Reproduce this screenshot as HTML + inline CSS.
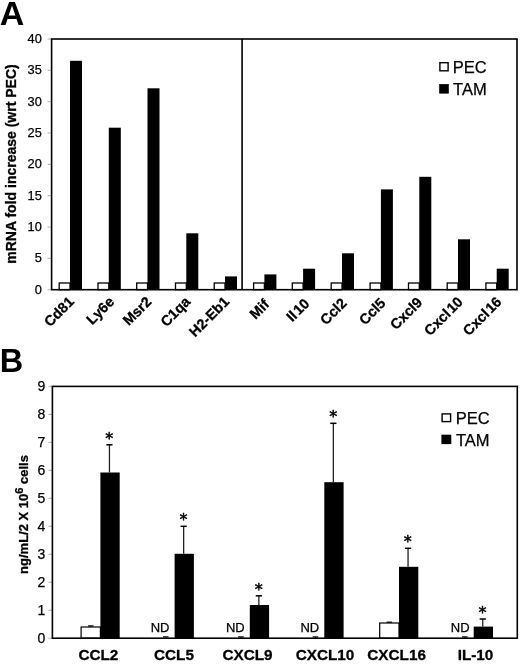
<!DOCTYPE html>
<html><head><meta charset="utf-8"><title>Figure</title>
<style>
html,body{margin:0;padding:0;background:#fff;}
body{width:520px;height:664px;overflow:hidden;}
svg{display:block;}
text{font-family:"Liberation Sans",Arial,sans-serif;fill:#000;}
.b{font-weight:bold;}
.t{stroke:#000;stroke-width:0.25px;}
.bx{stroke:#000;stroke-width:0.3px;}
.ast{font-family:"DejaVu Sans","Liberation Sans",sans-serif;stroke:#000;stroke-width:0.5px;}
</style></head><body>
<svg width="520" height="664" viewBox="0 0 520 664">
<rect x="0" y="0" width="520" height="664" fill="#fff"/>

<text class="b" x="-0.2" y="24.5" font-size="34">A</text>
<line x1="47.6" y1="289.70" x2="51.6" y2="289.70" stroke="#999" stroke-width="0.8"/>
<text class="t" x="41.8" y="293.60" font-size="12.8" text-anchor="end">0</text>
<line x1="47.6" y1="258.36" x2="51.6" y2="258.36" stroke="#999" stroke-width="0.8"/>
<text class="t" x="41.8" y="262.26" font-size="12.8" text-anchor="end">5</text>
<line x1="47.6" y1="227.02" x2="51.6" y2="227.02" stroke="#999" stroke-width="0.8"/>
<text class="t" x="41.8" y="230.92" font-size="12.8" text-anchor="end">10</text>
<line x1="47.6" y1="195.69" x2="51.6" y2="195.69" stroke="#999" stroke-width="0.8"/>
<text class="t" x="41.8" y="199.59" font-size="12.8" text-anchor="end">15</text>
<line x1="47.6" y1="164.35" x2="51.6" y2="164.35" stroke="#999" stroke-width="0.8"/>
<text class="t" x="41.8" y="168.25" font-size="12.8" text-anchor="end">20</text>
<line x1="47.6" y1="133.01" x2="51.6" y2="133.01" stroke="#999" stroke-width="0.8"/>
<text class="t" x="41.8" y="136.91" font-size="12.8" text-anchor="end">25</text>
<line x1="47.6" y1="101.67" x2="51.6" y2="101.67" stroke="#999" stroke-width="0.8"/>
<text class="t" x="41.8" y="105.57" font-size="12.8" text-anchor="end">30</text>
<line x1="47.6" y1="70.34" x2="51.6" y2="70.34" stroke="#999" stroke-width="0.8"/>
<text class="t" x="41.8" y="74.24" font-size="12.8" text-anchor="end">35</text>
<line x1="47.6" y1="39.00" x2="51.6" y2="39.00" stroke="#999" stroke-width="0.8"/>
<text class="t" x="41.8" y="42.90" font-size="12.8" text-anchor="end">40</text>
<rect x="59.20" y="283.00" width="10.8" height="6.70" fill="#fff" stroke="#000" stroke-width="1.3"/>
<rect x="70.00" y="60.80" width="12" height="228.90" fill="#000"/>
<rect x="98.00" y="283.00" width="10.8" height="6.70" fill="#fff" stroke="#000" stroke-width="1.3"/>
<rect x="108.80" y="127.70" width="12" height="162.00" fill="#000"/>
<rect x="136.70" y="283.00" width="10.8" height="6.70" fill="#fff" stroke="#000" stroke-width="1.3"/>
<rect x="147.50" y="88.30" width="12" height="201.40" fill="#000"/>
<rect x="175.50" y="283.00" width="10.8" height="6.70" fill="#fff" stroke="#000" stroke-width="1.3"/>
<rect x="186.30" y="233.30" width="12" height="56.40" fill="#000"/>
<rect x="214.20" y="283.00" width="10.8" height="6.70" fill="#fff" stroke="#000" stroke-width="1.3"/>
<rect x="225.00" y="276.40" width="12" height="13.30" fill="#000"/>
<rect x="253.60" y="283.00" width="10.8" height="6.70" fill="#fff" stroke="#000" stroke-width="1.3"/>
<rect x="264.40" y="274.40" width="12" height="15.30" fill="#000"/>
<rect x="292.30" y="283.00" width="10.8" height="6.70" fill="#fff" stroke="#000" stroke-width="1.3"/>
<rect x="303.10" y="268.70" width="12" height="21.00" fill="#000"/>
<rect x="331.20" y="283.00" width="10.8" height="6.70" fill="#fff" stroke="#000" stroke-width="1.3"/>
<rect x="342.00" y="253.30" width="12" height="36.40" fill="#000"/>
<rect x="370.10" y="283.00" width="10.8" height="6.70" fill="#fff" stroke="#000" stroke-width="1.3"/>
<rect x="380.90" y="189.40" width="12" height="100.30" fill="#000"/>
<rect x="408.50" y="283.00" width="10.8" height="6.70" fill="#fff" stroke="#000" stroke-width="1.3"/>
<rect x="419.30" y="176.80" width="12" height="112.90" fill="#000"/>
<rect x="447.20" y="283.00" width="10.8" height="6.70" fill="#fff" stroke="#000" stroke-width="1.3"/>
<rect x="458.00" y="239.30" width="12" height="50.40" fill="#000"/>
<rect x="485.90" y="283.00" width="10.8" height="6.70" fill="#fff" stroke="#000" stroke-width="1.3"/>
<rect x="496.70" y="268.70" width="12" height="21.00" fill="#000"/>
<text class="b bx" font-size="14.4" text-anchor="end" transform="translate(74.80,302.60) rotate(-45)">Cd81</text>
<text class="b bx" font-size="14.4" text-anchor="end" transform="translate(115.13,302.60) rotate(-45)">Ly6e</text>
<text class="b bx" font-size="14.4" text-anchor="end" transform="translate(152.46,302.60) rotate(-45)">Msr2</text>
<text class="b bx" font-size="14.4" text-anchor="end" transform="translate(191.29,302.60) rotate(-45)">C1qa</text>
<text class="b bx" font-size="14.4" text-anchor="end" transform="translate(230.12,302.60) rotate(-45)">H2-Eb1</text>
<text class="b bx" font-size="14.4" text-anchor="end" transform="translate(270.25,305.20) rotate(-45)">Mif</text>
<text class="b bx" font-size="14.4" text-anchor="end" transform="translate(310.38,304.50) rotate(-45)">Il<tspan dx="1.5">10</tspan></text>
<text class="b bx" font-size="14.4" text-anchor="end" transform="translate(347.61,304.20) rotate(-45)">Ccl2</text>
<text class="b bx" font-size="14.4" text-anchor="end" transform="translate(386.44,304.20) rotate(-45)">Ccl5</text>
<text class="b bx" font-size="14.4" text-anchor="end" transform="translate(423.27,303.40) rotate(-45)">Cxcl9</text>
<text class="b bx" font-size="14.4" text-anchor="end" transform="translate(463.70,302.80) rotate(-45)">Cxcl<tspan dx="1.2">10</tspan></text>
<text class="b bx" font-size="14.4" text-anchor="end" transform="translate(502.53,302.80) rotate(-45)">Cxcl<tspan dx="1.2">16</tspan></text>
<rect x="51.6" y="39.0" width="465.4" height="250.70" fill="none" stroke="#000" stroke-width="1.6"/>
<line x1="242.1" y1="39.0" x2="242.1" y2="289.7" stroke="#000" stroke-width="1.6"/>
<text class="b bx" font-size="14" text-anchor="middle" transform="translate(15.7,164) rotate(-90)">mRNA fold increase (wrt PEC)</text>
<rect x="439.9" y="62.7" width="8.2" height="8.1" fill="#fff" stroke="#000" stroke-width="1.4"/>
<text class="t" x="452.8" y="73.1" font-size="16.5">PEC</text>
<rect x="439.2" y="84.1" width="9.6" height="9.5" fill="#000"/>
<text class="t" x="453.1" y="95" font-size="16.5">TAM</text>
<text class="b" x="-0.3" y="372.3" font-size="32.5">B</text>
<line x1="48.4" y1="638.20" x2="52.4" y2="638.20" stroke="#999" stroke-width="0.8"/>
<text class="t" x="45.2" y="642.60" font-size="14" text-anchor="end">0</text>
<line x1="48.4" y1="610.22" x2="52.4" y2="610.22" stroke="#999" stroke-width="0.8"/>
<text class="t" x="45.2" y="614.62" font-size="14" text-anchor="end">1</text>
<line x1="48.4" y1="582.24" x2="52.4" y2="582.24" stroke="#999" stroke-width="0.8"/>
<text class="t" x="45.2" y="586.64" font-size="14" text-anchor="end">2</text>
<line x1="48.4" y1="554.27" x2="52.4" y2="554.27" stroke="#999" stroke-width="0.8"/>
<text class="t" x="45.2" y="558.67" font-size="14" text-anchor="end">3</text>
<line x1="48.4" y1="526.29" x2="52.4" y2="526.29" stroke="#999" stroke-width="0.8"/>
<text class="t" x="45.2" y="530.69" font-size="14" text-anchor="end">4</text>
<line x1="48.4" y1="498.31" x2="52.4" y2="498.31" stroke="#999" stroke-width="0.8"/>
<text class="t" x="45.2" y="502.71" font-size="14" text-anchor="end">5</text>
<line x1="48.4" y1="470.33" x2="52.4" y2="470.33" stroke="#999" stroke-width="0.8"/>
<text class="t" x="45.2" y="474.73" font-size="14" text-anchor="end">6</text>
<line x1="48.4" y1="442.36" x2="52.4" y2="442.36" stroke="#999" stroke-width="0.8"/>
<text class="t" x="45.2" y="446.76" font-size="14" text-anchor="end">7</text>
<line x1="48.4" y1="414.38" x2="52.4" y2="414.38" stroke="#999" stroke-width="0.8"/>
<text class="t" x="45.2" y="418.78" font-size="14" text-anchor="end">8</text>
<line x1="48.4" y1="386.40" x2="52.4" y2="386.40" stroke="#999" stroke-width="0.8"/>
<text class="t" x="45.2" y="390.80" font-size="14" text-anchor="end">9</text>
<rect x="81.10" y="627.00" width="19.3" height="11.20" fill="#fff" stroke="#000" stroke-width="1.2"/>
<line x1="90.75" y1="627.00" x2="90.75" y2="625.90" stroke="#000" stroke-width="1"/>
<line x1="87.95" y1="625.90" x2="93.55" y2="625.90" stroke="#000" stroke-width="1.2"/>
<rect x="100.40" y="472.50" width="19.3" height="165.70" fill="#000"/>
<line x1="109.45" y1="472.50" x2="109.45" y2="444.80" stroke="#222" stroke-width="1.3"/>
<line x1="106.35" y1="444.80" x2="112.55" y2="444.80" stroke="#000" stroke-width="1.5"/>
<text class="ast" x="109.25" y="443.90" font-size="16" text-anchor="middle">*</text>
<text class="b bx" x="98.4" y="660" font-size="15.3" text-anchor="middle">CCL2</text>
<line x1="165.75" y1="637.60" x2="165.75" y2="636.90" stroke="#000" stroke-width="1"/>
<line x1="162.95" y1="636.90" x2="168.55" y2="636.90" stroke="#000" stroke-width="1.2"/>
<rect x="174.60" y="553.80" width="19.3" height="84.40" fill="#000"/>
<line x1="183.65" y1="553.80" x2="183.65" y2="526.30" stroke="#222" stroke-width="1.3"/>
<line x1="180.55" y1="526.30" x2="186.75" y2="526.30" stroke="#000" stroke-width="1.5"/>
<text class="ast" x="183.45" y="525.40" font-size="16" text-anchor="middle">*</text>
<text class="t" x="160.10" y="632" font-size="13" text-anchor="middle">ND</text>
<text class="b bx" x="174" y="660" font-size="15.3" text-anchor="middle">CCL5</text>
<line x1="240.95" y1="637.60" x2="240.95" y2="636.90" stroke="#000" stroke-width="1"/>
<line x1="238.15" y1="636.90" x2="243.75" y2="636.90" stroke="#000" stroke-width="1.2"/>
<rect x="249.80" y="605.00" width="19.3" height="33.20" fill="#000"/>
<line x1="258.85" y1="605.00" x2="258.85" y2="595.80" stroke="#222" stroke-width="1.3"/>
<line x1="255.75" y1="595.80" x2="261.95" y2="595.80" stroke="#000" stroke-width="1.5"/>
<text class="ast" x="258.65" y="594.90" font-size="16" text-anchor="middle">*</text>
<text class="t" x="235.30" y="632" font-size="13" text-anchor="middle">ND</text>
<text class="b bx" x="247.5" y="660" font-size="15.3" text-anchor="middle">CXCL9</text>
<line x1="315.45" y1="637.60" x2="315.45" y2="636.90" stroke="#000" stroke-width="1"/>
<line x1="312.65" y1="636.90" x2="318.25" y2="636.90" stroke="#000" stroke-width="1.2"/>
<rect x="324.30" y="482.20" width="19.3" height="156.00" fill="#000"/>
<line x1="333.35" y1="482.20" x2="333.35" y2="423.30" stroke="#222" stroke-width="1.3"/>
<line x1="330.25" y1="423.30" x2="336.45" y2="423.30" stroke="#000" stroke-width="1.5"/>
<text class="ast" x="333.15" y="422.40" font-size="16" text-anchor="middle">*</text>
<text class="t" x="309.80" y="632" font-size="13" text-anchor="middle">ND</text>
<text class="b bx" x="325" y="660" font-size="15.3" text-anchor="middle">CXCL10</text>
<rect x="379.70" y="623.00" width="19.3" height="15.20" fill="#fff" stroke="#000" stroke-width="1.2"/>
<line x1="389.35" y1="623.00" x2="389.35" y2="622.20" stroke="#000" stroke-width="1"/>
<line x1="386.55" y1="622.20" x2="392.15" y2="622.20" stroke="#000" stroke-width="1.2"/>
<rect x="399.00" y="566.80" width="19.3" height="71.40" fill="#000"/>
<line x1="408.05" y1="566.80" x2="408.05" y2="548.30" stroke="#222" stroke-width="1.3"/>
<line x1="404.95" y1="548.30" x2="411.15" y2="548.30" stroke="#000" stroke-width="1.5"/>
<text class="ast" x="407.85" y="547.40" font-size="16" text-anchor="middle">*</text>
<text class="b bx" x="396.6" y="660" font-size="15.3" text-anchor="middle">CXCL16</text>
<line x1="464.85" y1="637.60" x2="464.85" y2="636.90" stroke="#000" stroke-width="1"/>
<line x1="462.05" y1="636.90" x2="467.65" y2="636.90" stroke="#000" stroke-width="1.2"/>
<rect x="473.70" y="626.60" width="19.3" height="11.60" fill="#000"/>
<line x1="482.75" y1="626.60" x2="482.75" y2="619.00" stroke="#222" stroke-width="1.3"/>
<line x1="479.65" y1="619.00" x2="485.85" y2="619.00" stroke="#000" stroke-width="1.5"/>
<text class="ast" x="482.55" y="618.10" font-size="16" text-anchor="middle">*</text>
<text class="t" x="460.20" y="632" font-size="13" text-anchor="middle">ND</text>
<text class="b bx" x="475.5" y="660" font-size="15.3" text-anchor="middle">IL-10</text>
<rect x="52.4" y="386.4" width="464.90" height="251.80" fill="none" stroke="#000" stroke-width="1.6"/>
<text class="b bx" font-size="13" text-anchor="middle" transform="translate(27.5,514.5) rotate(-90)">ng/mL/2 X 10<tspan dy="-4.5" font-size="11">6</tspan><tspan dy="4.5"> cells</tspan></text>
<rect x="442.1" y="413.9" width="8.5" height="7.7" fill="#fff" stroke="#000" stroke-width="1.4"/>
<text class="t" x="455.7" y="424.2" font-size="16.5">PEC</text>
<rect x="441.4" y="434.7" width="9.9" height="9.4" fill="#000"/>
<text class="t" x="456" y="445.8" font-size="16.5">TAM</text>
</svg></body></html>
